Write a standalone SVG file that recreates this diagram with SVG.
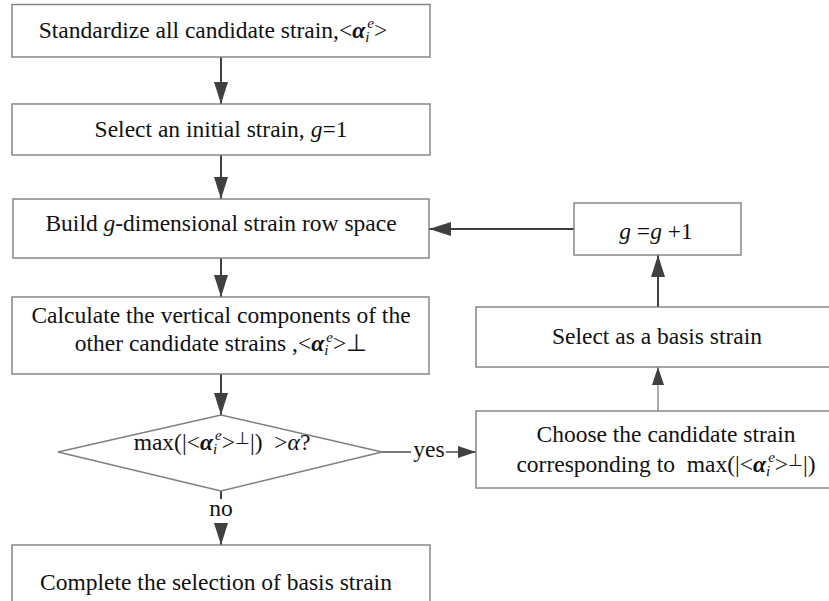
<svg xmlns="http://www.w3.org/2000/svg" width="829" height="601" viewBox="0 0 829 601">
<style>
.box{fill:#fff;stroke:#7f7f7f;stroke-width:1.4}
.t{font-family:"Liberation Serif","Times New Roman",serif;font-size:23.5px;fill:#111;text-anchor:middle}
.c{stroke:#404040;stroke-width:2;fill:none}
.cl{stroke:#8a8a8a;stroke-width:1.4;fill:none}
.b{font-weight:bold;font-style:italic}
.i{font-style:italic}
.s{font-size:15px;font-style:italic}
</style>
<defs>
<marker id="ah" markerUnits="userSpaceOnUse" markerWidth="22" markerHeight="14" refX="22" refY="7" orient="auto">
<path d="M0,0 L22,7 L0,14 z" fill="#404040"/>
</marker>
<marker id="ahs" markerUnits="userSpaceOnUse" markerWidth="18" markerHeight="12" refX="18" refY="6" orient="auto">
<path d="M0,0 L18,6 L0,12 z" fill="#404040"/>
</marker>
</defs>
<rect width="829" height="601" fill="#fff"/>
<g id="connectors">
<line class="c" x1="221" y1="57" x2="221" y2="104" marker-end="url(#ah)"/>
<line class="c" x1="221" y1="155" x2="221" y2="199" marker-end="url(#ah)"/>
<line class="c" x1="221" y1="258" x2="221" y2="297" marker-end="url(#ah)"/>
<line class="c" x1="221" y1="374" x2="221" y2="415" marker-end="url(#ah)"/>
<line class="c" x1="221" y1="491" x2="221" y2="499"/>
<line class="c" x1="221" y1="523" x2="221" y2="545" marker-end="url(#ah)"/>
<line class="c" x1="382" y1="452" x2="411" y2="452" style="stroke-width:1.4"/>
<line class="c" x1="446" y1="452" x2="476" y2="452" style="stroke-width:1.4" marker-end="url(#ahs)"/>
<line class="cl" x1="658" y1="411" x2="658" y2="367" marker-end="url(#ahs)"/>
<line class="c" x1="658" y1="307" x2="658" y2="255" marker-end="url(#ah)"/>
<line class="c" x1="574" y1="229" x2="429" y2="229" marker-end="url(#ah)"/>
<text class="t" x="221" y="516">no</text>
<text class="t" x="429" y="457">yes</text>
</g>
<g id="n1">
<rect class="box" x="12" y="4.5" width="418" height="52.5"/>
<text class="t" x="213" y="38">Standardize all candidate strain,&lt;<tspan class="b">α</tspan><tspan class="s" dy="4">i</tspan><tspan class="s" dx="-2" dy="-14">e</tspan><tspan dy="10">&gt;</tspan></text>
</g>
<g id="n2">
<rect class="box" x="12" y="104" width="418" height="51"/>
<text class="t" x="221" y="137">Select an initial strain, <tspan class="i">g</tspan>=1</text>
</g>
<g id="n3">
<rect class="box" x="13" y="199" width="416" height="59"/>
<text class="t" x="221" y="231">Build <tspan class="i">g</tspan>-dimensional strain row space</text>
</g>
<g id="n4">
<rect class="box" x="12" y="297" width="417" height="77"/>
<text class="t" x="221" y="323">Calculate the vertical components of the</text>
<text class="t" x="221" y="351">other candidate strains ,&lt;<tspan class="b">α</tspan><tspan class="s" dy="4">i</tspan><tspan class="s" dx="-2" dy="-13">e</tspan><tspan dy="9">&gt;⊥</tspan></text>
</g>
<g id="n5">
<polygon class="box" points="221,415 382,452 221,491 58,452"/>
<text class="t" x="222" y="450">max(|&lt;<tspan class="b">α</tspan><tspan class="s" dy="4">i</tspan><tspan class="s" dx="-2" dy="-14">e</tspan><tspan dy="10">&gt;</tspan><tspan font-size="17" dy="-6">⊥</tspan><tspan dy="6">|)&#160; &gt;</tspan><tspan class="i">α</tspan>?</text>
</g>
<g id="n6">
<rect class="box" x="12" y="545" width="418" height="70"/>
<text class="t" x="216" y="590">Complete the selection of basis strain</text>
</g>
<g id="n7">
<rect class="box" x="476" y="411" width="370" height="77"/>
<text class="t" x="666" y="442">Choose the candidate strain</text>
<text class="t" x="666" y="472">corresponding to&#160; max(|&lt;<tspan class="b">α</tspan><tspan class="s" dy="4">i</tspan><tspan class="s" dx="-2" dy="-14">e</tspan><tspan dy="10">&gt;</tspan><tspan font-size="17" dy="-6">⊥</tspan><tspan dy="6">|)</tspan></text>
</g>
<g id="n8">
<rect class="box" x="476" y="307" width="370" height="60"/>
<text class="t" x="657" y="344">Select as a basis strain</text>
</g>
<g id="n9">
<rect class="box" x="574" y="203" width="167" height="52"/>
<text class="t" x="656" y="239"><tspan class="i">g</tspan> =<tspan class="i">g</tspan> +1</text>
</g>
</svg>
